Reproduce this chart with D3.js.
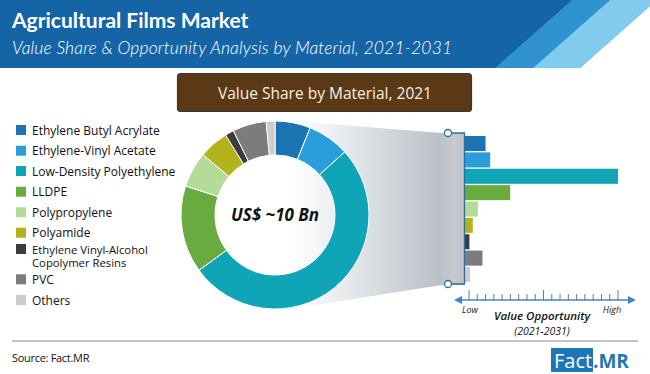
<!DOCTYPE html>
<html><head><meta charset="utf-8">
<script src="https://cdn.jsdelivr.net/npm/d3@7"></script>
<style>html,body{margin:0;padding:0;background:#fff;}svg{display:block;}</style>
</head><body>
<svg id="chart" width="650" height="374"></svg>
<script>
const categories = ["Ethylene Butyl Acrylate","Ethylene-Vinyl Acetate","Low-Density Polyethylene","LLDPE","Polypropylene","Polyamide","Ethylene Vinyl-Alcohol Copolymer Resins","PVC","Others"];
const legendLabels = [["Ethylene Butyl Acrylate"],["Ethylene-Vinyl Acetate"],["Low-Density Polyethylene"],["LLDPE"],["Polypropylene"],["Polyamide"],["Ethylene Vinyl-Alcohol","Copolymer Resins"],["PVC"],["Others"]];
const share2021 = [6.1, 7.2, 51.7, 15.0, 6.1, 5.1, 1.5, 5.8, 1.5];
const opportunity = [14, 17, 100, 30, 9, 5.7, 3.5, 12, 4];
const colors = ["#1c74b3","#2a9edb","#10a5b6","#6aab40","#b4dc98","#b3b31c","#3a3c40","#7c7c7c","#cdcdcd"];
const axisTicks = d3.range(19);

const svg = d3.select("#chart");
const defs = svg.append("defs");

// Header
svg.append("rect").attr("x",0).attr("y",0).attr("width",650).attr("height",68).attr("fill","#1565a6");
svg.append("path").attr("d","M572,0 L610,0 L533,68 L495,68 Z").attr("fill","#2f93d0");
svg.append("path").attr("d","M610,0 L650,0 L650,6 L580,68 L533,68 Z").attr("fill","#80cbee");
svg.append("path").attr("d","M650,6 L650,68 L580,68 Z").attr("fill","#ffffff");
svg.append("text").attr("x",12).attr("y",28).attr("fill","#fff")
  .style("font-family","Lato, 'Open Sans', sans-serif").style("font-weight","700").style("font-size","21px")
  .text("Agricultural Films Market");
svg.append("text").attr("x",12).attr("y",54).attr("fill","#fff")
  .style("font-family","Lato, 'Open Sans', sans-serif").style("font-style","italic").style("font-weight","300").style("font-size","17.5px").style("letter-spacing","0.15px")
  .text("Value Share & Opportunity Analysis by Material, 2021-2031");

// Title box
svg.append("rect").attr("x",177.5).attr("y",73.5).attr("width",294).attr("height",38).attr("rx",3)
  .attr("fill","#5b3916").attr("stroke","#3a3a3a").attr("stroke-width",1.2);
svg.append("text").attr("x",325).attr("y",98.5).attr("text-anchor","middle").attr("fill","#f7f0e2")
  .style("font-family","'Open Sans', 'Noto Sans', sans-serif").style("font-size","15.5px")
  .text("Value Share by Material, 2021");

// Gradient trapezoid
const g1 = defs.append("linearGradient").attr("id","fan").attr("x1","0").attr("x2","1").attr("y1","0").attr("y2","0");
g1.append("stop").attr("offset","0").attr("stop-color","#ffffff");
g1.append("stop").attr("offset","0.25").attr("stop-color","#eef2f5");
g1.append("stop").attr("offset","1").attr("stop-color","#b9bfc5");
svg.append("path").attr("d","M290,121 L442,133 L442,285 L290,309 Z").attr("fill","url(#fan)");
const g2 = defs.append("linearGradient").attr("id","panel").attr("x1","0").attr("x2","1").attr("y1","0").attr("y2","0");
g2.append("stop").attr("offset","0").attr("stop-color","#bcc2c7");
g2.append("stop").attr("offset","0.6").attr("stop-color","#c7cbcf");
g2.append("stop").attr("offset","1").attr("stop-color","#bfc3c7");
svg.append("rect").attr("x",441).attr("y",133).attr("width",23).attr("height",152).attr("fill","url(#panel)");

// Donut
const cx = 275, cy = 215;
const pie = d3.pie().sort(null).value(d => d)(share2021);
const arc = d3.arc().innerRadius(60).outerRadius(94);
svg.append("g").attr("transform",`translate(${cx},${cy})`)
  .selectAll("path").data(pie).join("path")
  .attr("d",arc).attr("fill",(d,i)=>colors[i]).attr("stroke","#fff").attr("stroke-width",1);
svg.append("text").attr("x",cx).attr("y",cy+6).attr("text-anchor","middle").attr("fill","#111")
  .style("font-family","'Open Sans', 'Noto Sans', sans-serif").style("font-weight","700").style("font-style","italic").style("font-size","17px")
  .text("US$ ~10 Bn");

// Bars
const x = d3.scaleLinear().domain([0,100]).range([464,618]);
const y = d3.scaleBand().domain(categories).range([136,282]).paddingInner(0.08);
svg.append("g").selectAll("rect").data(opportunity).join("rect")
  .attr("x",x(0)).attr("y",(d,i)=>y(categories[i])).attr("width",d=>x(d)-x(0)).attr("height",y.bandwidth())
  .attr("fill",(d,i)=>colors[i]);

// connector lines and circles
svg.append("path").attr("d","M448,133 L464.5,133 L464.5,284 L448,284").attr("fill","none").attr("stroke","#2c6ea3").attr("stroke-width",1.3);
[133,284].forEach(yy=>svg.append("circle").attr("cx",448).attr("cy",yy).attr("r",3.5).attr("fill","#fff").attr("stroke","#2c6ea3").attr("stroke-width",1.3));

// Opportunity axis
const ax = d3.scaleLinear().domain([0,18]).range([469,618]);
const axY = 300;
svg.append("line").attr("x1",459).attr("x2",630).attr("y1",axY).attr("y2",axY).attr("stroke","#3d87c7").attr("stroke-width",1.5);
svg.append("path").attr("d",`M454,${axY} L462,${axY-4} L462,${axY+4} Z`).attr("fill","#3d87c7");
svg.append("path").attr("d",`M636,${axY} L628,${axY-4} L628,${axY+4} Z`).attr("fill","#3d87c7");
svg.append("g").selectAll("line").data(axisTicks).join("line")
  .attr("x1",d=>ax(d)).attr("x2",d=>ax(d)).attr("y1",d=>d%9===0?axY-10:axY-6).attr("y2",axY)
  .attr("stroke","#555").attr("stroke-width",0.8);
const axFont = "'Open Sans', 'Noto Sans', sans-serif";
svg.append("text").attr("x",470).attr("y",313).attr("text-anchor","middle").attr("fill","#222")
  .style("font-family",axFont).style("font-style","italic").style("font-size","9px").text("Low");
svg.append("text").attr("x",612).attr("y",313).attr("text-anchor","middle").attr("fill","#222")
  .style("font-family",axFont).style("font-style","italic").style("font-size","9px").text("High");
svg.append("text").attr("x",542).attr("y",320).attr("text-anchor","middle").attr("fill","#111")
  .style("font-family",axFont).style("font-style","italic").style("font-weight","600").style("font-size","11.5px").text("Value Opportunity");
svg.append("text").attr("x",542).attr("y",335).attr("text-anchor","middle").attr("fill","#111")
  .style("font-family",axFont).style("font-style","italic").style("font-size","10.5px").text("(2021-2031)");

// Legend
const legRows = [130,150.7,171,191.7,212.3,232.7,249,279.3,300];
const leg = svg.append("g");
legendLabels.forEach((lines,i)=>{
  leg.append("rect").attr("x",16).attr("y",legRows[i]-5).attr("width",10).attr("height",10).attr("fill",colors[i]);
  lines.forEach((t,j)=>{
    leg.append("text").attr("x",32).attr("y",legRows[i]+4.5+j*13.6).attr("fill","#111")
      .style("font-family","'Open Sans', 'Noto Sans', sans-serif").style("font-size",lines.length>1?"11.3px":"12px").text(t);
  });
});

// Footer
svg.append("line").attr("x1",12).attr("x2",638).attr("y1",341).attr("y2",341).attr("stroke","#8a8a8a").attr("stroke-width",1.2);
svg.append("text").attr("x",12).attr("y",362).attr("fill","#111")
  .style("font-family","'Open Sans', 'Noto Sans', sans-serif").style("font-size","11px").style("letter-spacing","-0.3px").text("Source: Fact.MR");
svg.append("rect").attr("x",551).attr("y",348).attr("width",42).attr("height",24).attr("fill","#1e77b5");
svg.append("text").attr("x",554).attr("y",368).attr("fill","#fff")
  .style("font-family","'Open Sans', sans-serif").style("font-size","20px").text("Fact");
svg.append("text").attr("x",593).attr("y",368).attr("fill","#1e77b5")
  .style("font-family","'Open Sans', sans-serif").style("font-weight","700").style("font-size","19px").text(".MR");
</script>
</body></html>
